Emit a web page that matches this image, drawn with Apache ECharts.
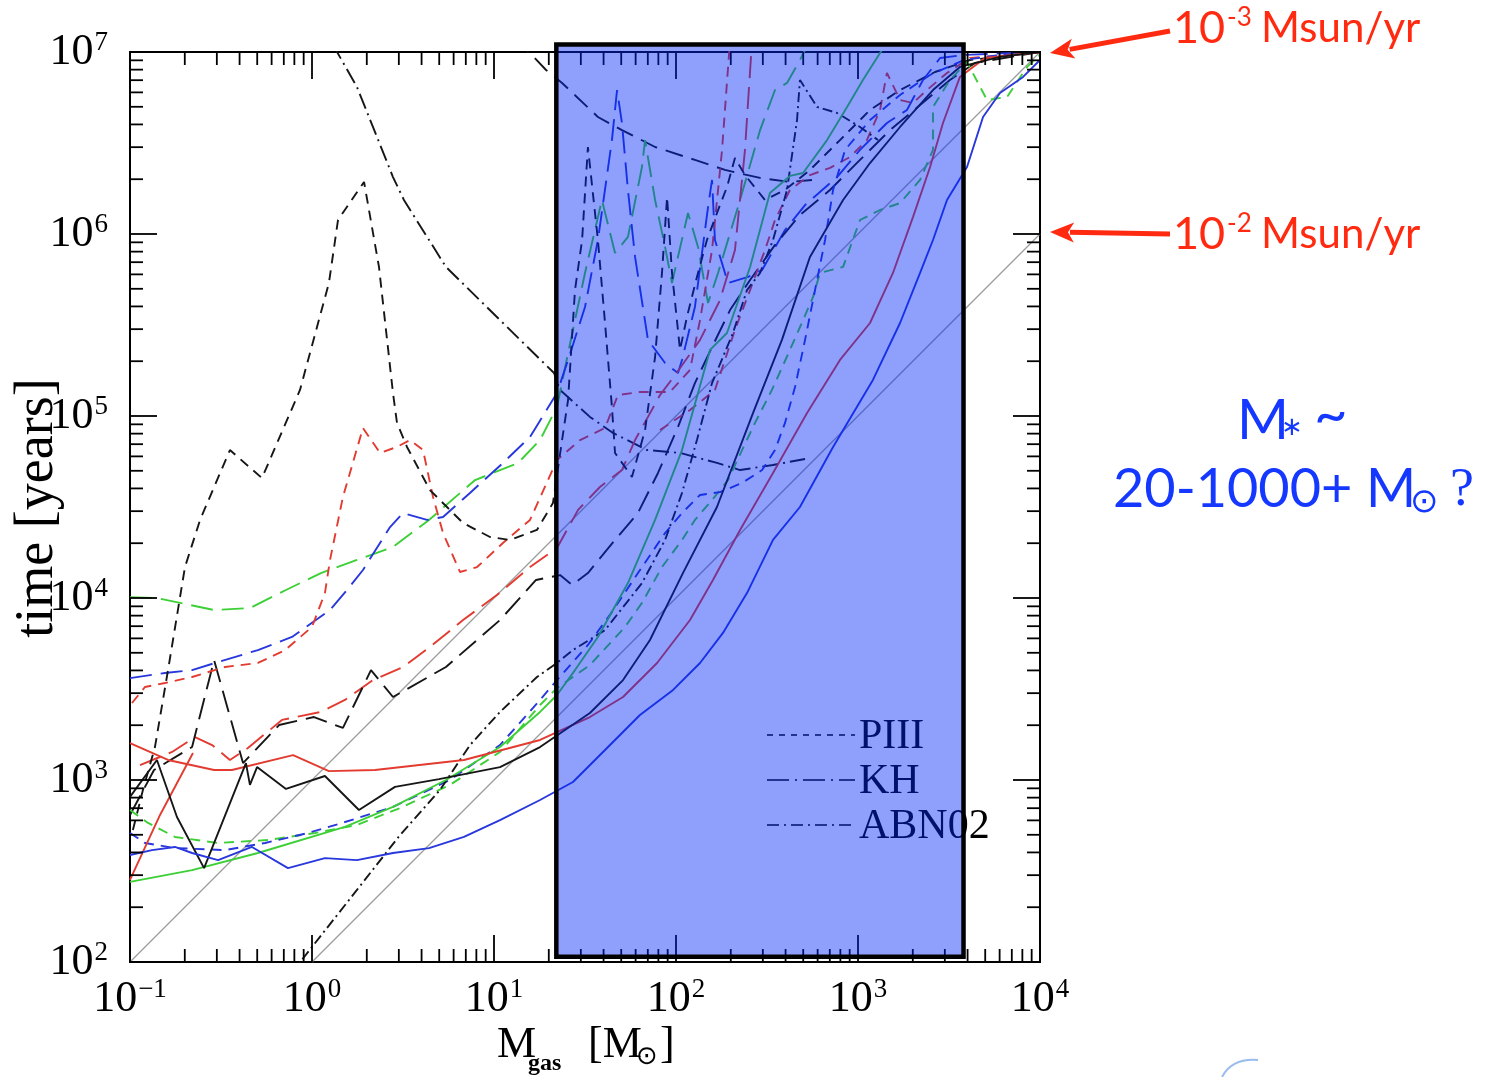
<!DOCTYPE html>
<html>
<head>
<meta charset="utf-8">
<script src="https://cdn.jsdelivr.net/npm/echarts/dist/echarts.min.js"></script>
<style>
  html, body { margin: 0; padding: 0; background: #fff; }
  #chart { width: 1493px; height: 1077px; }
</style>
</head>
<body>
<div id="chart"></div>
<script>
// Every curve point is [log10(M_gas / Msun), log10(t / yr)].

// black
const kSolid = [[-1.000,2.907],[-0.852,3.110],[-0.742,2.797],[-0.593,2.516],[-0.363,3.093],[-0.341,2.973],[-0.302,3.071],[-0.143,2.951],[0.071,3.022],[0.258,2.835],[0.456,2.962],[0.698,3.005],[1.033,3.071],[1.253,3.181],[1.527,3.368],[1.709,3.549],[1.857,3.769],[2.038,4.137],[2.225,4.500],[2.423,5.016],[2.582,5.418],[2.736,5.874],[2.918,6.187],[3.066,6.390],[3.231,6.588],[3.412,6.791],[3.560,6.918],[3.780,6.973],[4.000,7.000]];
const kLongDash = [[-1.000,2.808],[-0.868,3.055],[-0.659,3.181],[-0.538,3.659],[-0.379,3.093],[-0.181,3.302],[0.011,3.346],[0.170,3.286],[0.324,3.604],[0.445,3.456],[0.736,3.621],[1.033,3.879],[1.231,4.099],[1.363,4.126],[1.429,4.071],[1.516,4.137],[1.665,4.319],[1.791,4.467],[1.901,4.687],[2.011,4.940],[2.104,5.181],[2.198,5.379],[2.297,5.582],[2.407,5.747],[2.544,5.940],[2.681,6.104],[2.846,6.242],[3.011,6.407],[3.176,6.571],[3.341,6.709],[3.505,6.846],[3.643,6.940],[4.000,7.000]];
const kShortDash = [[-0.984,2.725],[-0.929,2.945],[-0.863,3.181],[-0.791,3.604],[-0.698,4.170],[-0.615,4.429],[-0.451,4.813],[-0.275,4.659],[-0.066,5.143],[0.093,5.731],[0.143,6.077],[0.286,6.286],[0.368,5.819],[0.445,5.126],[0.467,4.962],[0.522,4.830],[0.648,4.593],[0.830,4.412],[0.978,4.335],[1.088,4.319],[1.236,4.374],[1.324,4.522],[1.374,4.868],[1.407,5.088],[1.445,5.692],[1.484,5.967],[1.516,6.478],[1.571,5.967],[1.610,5.511],[1.648,5.049],[1.665,4.797],[1.758,4.665],[1.830,4.923],[1.885,5.324],[1.923,5.786],[1.951,6.203],[1.978,5.786],[2.022,5.363],[2.060,5.544],[2.115,5.764],[2.170,5.967],[2.225,6.115],[2.280,6.258],[2.324,6.418],[2.379,6.324],[2.489,6.187],[2.599,6.242],[2.736,6.352],[2.901,6.516],[3.066,6.681],[3.231,6.791],[3.423,6.890],[3.615,6.956],[4.000,7.000]];
const kDashDot = [[-0.121,1.929],[0.247,2.396],[0.484,2.698],[0.703,2.945],[0.868,3.192],[1.033,3.374],[1.236,3.566],[1.346,3.643],[1.434,3.714],[1.610,3.824],[1.813,4.082],[1.940,4.319],[2.033,4.577],[2.115,4.868],[2.198,5.181],[2.313,5.456],[2.390,5.692],[2.462,5.786],[2.533,5.967],[2.610,6.242],[2.665,6.626],[2.681,6.846],[2.775,6.698],[2.885,6.665],[3.011,6.588],[3.110,6.516]];
const kArcLow = [[0.115,7.040],[0.247,6.808],[0.445,6.313],[0.505,6.187],[0.736,5.819],[1.033,5.527],[1.330,5.236],[1.363,5.143],[1.527,4.995],[1.654,4.907],[1.841,4.813],[2.022,4.797],[2.225,4.742],[2.352,4.703],[2.533,4.731],[2.709,4.764]];
const kArcHigh = [[1.115,7.066],[1.192,7.000],[1.286,6.901],[1.374,6.830],[1.571,6.643],[1.703,6.571],[1.885,6.478],[2.104,6.407],[2.269,6.352],[2.462,6.308],[2.626,6.286],[2.747,6.297]];

// red
const rSolid = [[-1.000,3.203],[-0.791,3.110],[-0.538,3.055],[-0.440,3.055],[-0.104,3.137],[0.093,3.049],[0.346,3.055],[0.835,3.110],[1.253,3.220],[1.527,3.346],[1.709,3.456],[1.896,3.643],[2.077,3.879],[2.203,4.099],[2.352,4.374],[2.533,4.687],[2.720,5.016],[2.901,5.308],[3.066,5.511],[3.192,5.786],[3.302,6.093],[3.396,6.368],[3.467,6.610],[3.560,6.863],[3.698,6.967],[4.000,7.000]];
const rSolidStub = [[-1.000,2.451],[-0.835,2.808],[-0.654,3.148]];
const rLongDash = [[-0.945,3.082],[-0.769,3.154],[-0.643,3.236],[-0.549,3.192],[-0.451,3.110],[-0.352,3.176],[-0.165,3.330],[0.049,3.374],[0.181,3.440],[0.335,3.549],[0.500,3.621],[0.648,3.731],[0.830,3.879],[1.016,4.016],[1.198,4.170],[1.346,4.275],[1.462,4.484],[1.582,4.610],[1.703,4.703],[1.775,4.868],[1.846,4.995],[1.912,5.115],[1.995,5.225],[2.132,5.418],[2.242,5.637],[2.324,5.912],[2.379,6.462],[2.418,7.066]];
const rShortDash = [[-0.989,3.423],[-0.918,3.511],[-0.808,3.533],[-0.659,3.566],[-0.478,3.621],[-0.297,3.643],[-0.148,3.714],[0.000,3.841],[0.071,4.027],[0.099,4.209],[0.170,4.555],[0.280,4.934],[0.374,4.797],[0.467,4.830],[0.538,4.868],[0.610,4.813],[0.665,4.555],[0.720,4.357],[0.813,4.143],[0.907,4.170],[1.049,4.302],[1.198,4.429],[1.346,4.758],[1.473,4.868],[1.610,4.934],[1.681,5.115],[1.802,5.132],[1.967,5.132],[2.077,5.253],[2.132,5.527],[2.198,5.912],[2.253,6.462],[2.297,7.066]];
const rShortDash2 = [[1.912,4.923],[2.077,5.033],[2.214,5.143],[2.324,5.473],[2.407,5.692],[2.489,5.912],[2.544,6.077],[2.626,6.242],[2.736,6.324],[2.846,6.363],[2.956,6.423],[3.049,6.516],[3.121,6.681],[3.159,6.885],[3.231,6.736],[3.302,6.720],[3.379,6.791],[3.489,6.885],[3.615,6.967],[4.000,7.000]];

// green
const gSolid = [[-1.000,2.440],[-0.659,2.505],[-0.297,2.599],[0.181,2.742],[0.445,2.852],[0.736,3.000],[1.033,3.181],[1.253,3.374],[1.346,3.467],[1.445,3.604],[1.571,3.786],[1.736,4.082],[1.885,4.429],[2.033,4.813],[2.121,5.126],[2.187,5.363],[2.280,5.456],[2.407,5.819],[2.516,6.225],[2.626,6.319],[2.698,6.335],[2.830,6.516],[2.940,6.698],[3.027,6.846],[3.121,6.995],[3.176,7.077]];
const gLongDash = [[-1.000,4.005],[-0.852,4.000],[-0.538,3.934],[-0.341,3.945],[-0.143,4.044],[0.049,4.137],[0.247,4.209],[0.445,4.280],[0.643,4.429],[0.896,4.648],[1.132,4.742],[1.253,4.868],[1.346,5.049],[1.407,5.346],[1.500,5.786],[1.593,6.187],[1.665,5.896],[1.736,5.984],[1.813,6.368],[1.830,6.516],[1.885,6.187],[1.940,5.929],[1.978,5.731],[2.066,6.115],[2.121,5.929],[2.176,5.621],[2.231,5.786],[2.352,6.187],[2.462,6.571],[2.544,6.791],[2.610,6.830],[2.681,6.956],[2.736,7.066]];
const gShortDash = [[-1.000,2.835],[-0.901,2.764],[-0.753,2.687],[-0.516,2.654],[-0.242,2.670],[0.016,2.709],[0.247,2.753],[0.484,2.846],[0.758,2.973],[1.033,3.154],[1.253,3.412],[1.346,3.505],[1.527,3.632],[1.720,3.841],[1.813,3.973],[1.923,4.170],[2.033,4.319],[2.104,4.429],[2.198,4.538],[2.286,4.648],[2.363,4.813],[2.434,4.962],[2.527,5.143],[2.626,5.363],[2.698,5.527],[2.753,5.654],[2.791,5.786],[2.918,5.819],[3.011,6.077],[3.121,6.132],[3.231,6.170],[3.341,6.297],[3.412,6.462],[3.412,6.698],[3.505,6.846],[3.599,6.945],[3.709,6.736],[3.819,6.753],[3.929,6.918],[4.000,6.984]];

// blue
const bSolid = [[-1.000,2.588],[-0.879,2.615],[-0.753,2.632],[-0.659,2.599],[-0.516,2.560],[-0.330,2.632],[-0.132,2.516],[0.071,2.571],[0.247,2.560],[0.445,2.599],[0.643,2.626],[0.835,2.687],[1.033,2.780],[1.253,2.890],[1.434,2.989],[1.621,3.176],[1.802,3.357],[1.984,3.495],[2.132,3.643],[2.258,3.808],[2.390,4.027],[2.533,4.319],[2.681,4.500],[2.863,4.830],[3.082,5.198],[3.231,5.511],[3.341,5.786],[3.412,5.967],[3.489,6.187],[3.599,6.368],[3.687,6.643],[3.780,6.775],[3.907,6.863],[4.000,6.956]];
const bLongDash = [[-1.000,3.560],[-0.808,3.588],[-0.659,3.604],[-0.533,3.643],[-0.297,3.714],[-0.110,3.786],[0.099,3.934],[0.192,4.044],[0.280,4.154],[0.429,4.390],[0.500,4.467],[0.632,4.429],[0.720,4.445],[0.868,4.577],[1.049,4.742],[1.198,4.885],[1.346,5.126],[1.407,5.308],[1.500,5.599],[1.571,5.967],[1.648,6.516],[1.676,6.791],[1.703,6.610],[1.736,6.242],[1.775,5.874],[1.846,5.418],[1.940,5.291],[2.011,5.236],[2.033,5.308],[2.104,5.599],[2.176,6.148],[2.198,6.297],[2.214,5.967],[2.286,5.731],[2.396,5.764],[2.473,5.802],[2.599,6.022],[2.709,6.159],[2.885,6.313],[3.011,6.462],[3.159,6.610],[3.269,6.681],[3.357,6.846],[3.451,6.967],[3.582,6.984],[4.000,7.000]];
const bShortDash = [[-1.000,2.709],[-0.918,2.654],[-0.753,2.626],[-0.478,2.615],[-0.258,2.654],[-0.022,2.709],[0.165,2.764],[0.445,2.852],[0.758,3.000],[1.033,3.192],[1.253,3.440],[1.346,3.549],[1.516,3.742],[1.637,3.907],[1.791,4.137],[1.940,4.357],[2.033,4.467],[2.132,4.566],[2.242,4.582],[2.363,4.632],[2.473,4.703],[2.544,4.813],[2.599,4.962],[2.654,5.159],[2.709,5.418],[2.764,5.692],[2.819,5.967],[2.863,6.242],[2.929,6.462],[3.066,6.626],[3.231,6.764],[3.396,6.874],[3.582,6.956],[3.780,6.984],[4.000,7.000]];

// constant accretion-rate guides: 1e-3 and 1e-2 Msun/yr
const rate1e3 = [[-1, 2], [4, 7]];
const rate1e2 = [[0, 2], [4, 6]];

// axes
const X_RANGE = [0.1, 1e4];
const Y_RANGE = [1e2, 1e7];
const X_MAJOR = [0.1, 1, 10, 100, 1000, 10000];
const Y_MAJOR = [1e2, 1e3, 1e4, 1e5, 1e6, 1e7];
const MINOR_STEPS = [2, 3, 4, 5, 6, 7, 8, 9];

// highlighted stellar-mass window
const BOX_MASS = [22, 3800];
const BOX_TIME = [107, 1.1e7];

const LEGEND_ITEMS = ['PIII', 'KH', 'ABN02'];

const SERIF = '"Liberation Serif", "DejaVu Serif", serif';
const SANS = 'Lato, "Open Sans", "Noto Sans", sans-serif';

const C_BLACK = '#161616', C_RED = '#e33b30', C_GREEN = '#3ccf36', C_BLUE = '#2838dc', C_GRAY = '#9c9c9c';
const DASH_PIII = [10, 7], DASH_KH = [22, 9], DASH_ABN = [10, 4, 2, 4];

const fromLog = pts => pts.map(([lm, lt]) => [Math.pow(10, lm), Math.pow(10, lt)]);

const curves = [
  { name: 'rate-3', data: rate1e3, color: C_GRAY, dash: 'solid', width: 1.3 },
  { name: 'rate-2', data: rate1e2, color: C_GRAY, dash: 'solid', width: 1.3 },
  { name: 'k-arc-low', data: kArcLow, color: C_BLACK, dash: [16, 5, 2, 5] },
  { name: 'k-arc-high', data: kArcHigh, color: C_BLACK, dash: [18, 9] },
  { name: 'g-long', data: gLongDash, color: C_GREEN, dash: DASH_KH },
  { name: 'b-long', data: bLongDash, color: C_BLUE, dash: DASH_KH },
  { name: 'r-long', data: rLongDash, color: C_RED, dash: DASH_KH },
  { name: 'k-long', data: kLongDash, color: C_BLACK, dash: DASH_KH },
  { name: 'r-short', data: rShortDash, color: C_RED, dash: DASH_PIII },
  { name: 'r-short2', data: rShortDash2, color: C_RED, dash: DASH_PIII },
  { name: 'k-short', data: kShortDash, color: C_BLACK, dash: DASH_PIII },
  { name: 'g-short', data: gShortDash, color: C_GREEN, dash: DASH_PIII },
  { name: 'b-short', data: bShortDash, color: C_BLUE, dash: DASH_PIII },
  { name: 'k-dashdot', data: kDashDot, color: C_BLACK, dash: DASH_ABN },
  { name: 'g-solid', data: gSolid, color: C_GREEN, dash: 'solid' },
  { name: 'r-solid', data: rSolid, color: C_RED, dash: 'solid' },
  { name: 'r-solid-stub', data: rSolidStub, color: C_RED, dash: 'solid' },
  { name: 'k-solid', data: kSolid, color: C_BLACK, dash: 'solid' },
  { name: 'b-solid', data: bSolid, color: C_BLUE, dash: 'solid' }
];

// tick marks on all four sides (major + 2..9 minor per decade)
function buildTicks(majors) {
  const out = [];
  majors.forEach((m, i) => {
    out.push({ v: m, major: 1 });
    if (i < majors.length - 1) MINOR_STEPS.forEach(k => out.push({ v: m * k, major: 0 }));
  });
  return out;
}
const xTicks = buildTicks(X_MAJOR).map(t => [t.v, 1000, t.major]);
const yTicks = buildTicks(Y_MAJOR).map(t => [1, t.v, t.major]);

const TICK_STYLE = { stroke: '#000', lineWidth: 1.8 };
function xTickItem(params, api) {
  const cs = params.coordSys;
  const x = api.coord([api.value(0), 1000])[0];
  const len = api.value(2) ? 27 : 13;
  const b = cs.y + cs.height, t = cs.y;
  return { type: 'group', children: [
    { type: 'line', shape: { x1: x, y1: b, x2: x, y2: b - len }, style: TICK_STYLE },
    { type: 'line', shape: { x1: x, y1: t, x2: x, y2: t + len }, style: TICK_STYLE }
  ] };
}
function yTickItem(params, api) {
  const cs = params.coordSys;
  const y = api.coord([1, api.value(1)])[1];
  const len = api.value(2) ? 27 : 13;
  const l = cs.x, r = cs.x + cs.width;
  return { type: 'group', children: [
    { type: 'line', shape: { x1: l, y1: y, x2: l + len, y2: y }, style: TICK_STYLE },
    { type: 'line', shape: { x1: r, y1: y, x2: r - len, y2: y }, style: TICK_STYLE }
  ] };
}

function expLabel(v) {
  const e = Math.round(Math.log10(v));
  return '{b|10}{s|' + (e < 0 ? '\u2212' + (-e) : String(e)) + '}';
}
const labelRich = {
  b: { fontFamily: SERIF, fontSize: 44, lineHeight: 46, color: '#000' },
  s: { fontFamily: SERIF, fontSize: 27, lineHeight: 46, verticalAlign: 'top', color: '#000', padding: [0, 0, 15, 1] }
};

const chart = echarts.init(document.getElementById('chart'), null, { renderer: 'canvas' });

const option = {
  animation: false,
  backgroundColor: '#ffffff',
  grid: { left: 130, right: 453, top: 52, bottom: 115, show: true, borderColor: '#000', borderWidth: 2, backgroundColor: 'transparent' },
  xAxis: {
    type: 'log', logBase: 10, min: X_RANGE[0], max: X_RANGE[1],
    axisLine: { show: false }, axisTick: { show: false }, splitLine: { show: false },
    axisLabel: { margin: 14, formatter: expLabel, rich: labelRich }
  },
  yAxis: {
    type: 'log', logBase: 10, min: Y_RANGE[0], max: Y_RANGE[1],
    axisLine: { show: false }, axisTick: { show: false }, splitLine: { show: false },
    axisLabel: { margin: 22, formatter: expLabel, rich: labelRich }
  },
  series: [
    ...curves.map(c => ({
      name: c.name, type: 'line', data: fromLog(c.data), showSymbol: false, symbol: 'none',
      clip: true, silent: true, z: 2,
      lineStyle: { color: c.color, width: c.width || 1.9, type: c.dash }
    })),
    { type: 'custom', data: xTicks, renderItem: xTickItem, encode: { x: 0, y: 1 }, silent: true, z: 3 },
    { type: 'custom', data: yTicks, renderItem: yTickItem, encode: { x: 0, y: 1 }, silent: true, z: 3 }
  ]
};
chart.setOption(option);

// overlay, legend, titles and annotations, placed from the axes' pixel mapping
const toPx = p => chart.convertToPixel({ gridIndex: 0 }, p);
const boxTL = toPx([BOX_MASS[0], BOX_TIME[1]]);
const boxBR = toPx([BOX_MASS[1], BOX_TIME[0]]);
const corner7 = toPx([X_RANGE[1], 1e7]);
const corner6 = toPx([X_RANGE[1], 1e6]);

function txt(text, x, y, font, fill, extra) {
  return Object.assign({
    type: 'text', x: x, y: y, z: 120,
    style: { text: text, font: font, fill: fill, textAlign: 'left', align: 'left', textVerticalAlign: 'middle', verticalAlign: 'middle' }
  }, extra || {});
}
function arrow(tail, tip, color) {
  const dx = tip[0] - tail[0], dy = tip[1] - tail[1];
  const L = Math.hypot(dx, dy), ux = dx / L, uy = dy / L;
  const hl = 24, hw = 10;
  const bx = tip[0] - ux * hl, by = tip[1] - uy * hl;
  return [
    { type: 'line', z: 120, shape: { x1: tail[0], y1: tail[1], x2: bx + ux * 4, y2: by + uy * 4 }, style: { stroke: color, lineWidth: 5 } },
    { type: 'polygon', z: 120, shape: { points: [tip, [bx - uy * hw, by + ux * hw], [bx + ux * 6, by + uy * 6], [bx + uy * hw, by - ux * hw]] }, style: { fill: color } }
  ];
}

const legendDash = [[6, 6], [22, 6, 2, 6], [12, 5, 2, 5]];
const legendEls = [];
LEGEND_ITEMS.forEach((name, i) => {
  const y = 735 + i * 45;
  legendEls.push({ type: 'line', z: 50, shape: { x1: 767, y1: y, x2: 855, y2: y }, style: { stroke: '#000', lineWidth: 1.5, lineDash: legendDash[i] } });
  legendEls.push(txt(name, 859, y + 2, '42px ' + SERIF, '#000', { z: 50 }));
});

const RED_NOTE = '#ff2a10', BLUE_NOTE = '#1438ff';
const graphics = [
  ...legendEls,
  { type: 'rect', z: 100, shape: { x: boxTL[0], y: boxTL[1], width: boxBR[0] - boxTL[0], height: boxBR[1] - boxTL[1] },
    style: { fill: 'rgba(0,39,248,0.44)', stroke: null } },
  { type: 'rect', z: 101, shape: { x: boxTL[0], y: boxTL[1], width: boxBR[0] - boxTL[0], height: boxBR[1] - boxTL[1] },
    style: { fill: null, stroke: '#000', lineWidth: 4.5 } },

  // axis titles
  txt('time [years]', 38, 508, '54px ' + SERIF, '#000', { rotation: Math.PI / 2,
    style: { text: 'time [years]', font: '54px ' + SERIF, fill: '#000', textAlign: 'center', align: 'center', textVerticalAlign: 'middle', verticalAlign: 'middle' } }),
  txt('M', 497, 1045, '44px ' + SERIF, '#000'),
  txt('gas', 528, 1064, 'bold 24px ' + SERIF, '#000'),
  txt('[M', 588, 1045, '44px ' + SERIF, '#000'),
  txt('\u2299', 636, 1057, '26px "DejaVu Sans", sans-serif', '#000'),
  txt(']', 660, 1045, '44px ' + SERIF, '#000'),

  // accretion-rate annotations
  txt('10', 1173, 28, '45px ' + SANS, RED_NOTE),
  txt('-3', 1227, 18, '26px ' + SANS, RED_NOTE),
  txt('Msun/yr', 1261, 28, '42px ' + SANS, RED_NOTE),
  txt('10', 1173, 234, '45px ' + SANS, RED_NOTE),
  txt('-2', 1227, 224, '26px ' + SANS, RED_NOTE),
  txt('Msun/yr', 1261, 234, '42px ' + SANS, RED_NOTE),
  ...arrow([1170, 31], [corner7[0] + 10, corner7[1] + 1], RED_NOTE),
  ...arrow([1170, 234], [corner6[0] + 10, corner6[1] - 2], RED_NOTE),

  // stellar mass note
  txt('M', 1237, 421, '56px ' + SANS, BLUE_NOTE),
  txt('\u2217', 1281, 428, '26px "DejaVu Sans", sans-serif', BLUE_NOTE),
  txt('~', 1314, 416, '58px ' + SANS, BLUE_NOTE),
  txt('20-1000+ M', 1113, 490, '54px ' + SANS, BLUE_NOTE),
  txt('\u2299', 1410, 503, '34px "DejaVu Sans", sans-serif', BLUE_NOTE),
  txt('?', 1450, 491, '54px ' + SERIF, BLUE_NOTE),

  // faint swoosh at the lower edge
  { type: 'bezierCurve', z: 120, shape: { x1: 1222, y1: 1077, cpx1: 1232, cpy1: 1058, x2: 1258, y2: 1060 },
    style: { stroke: 'rgba(110,160,230,0.7)', lineWidth: 2, fill: null } }
];

chart.setOption({ graphic: graphics });
</script>
</body>
</html>
